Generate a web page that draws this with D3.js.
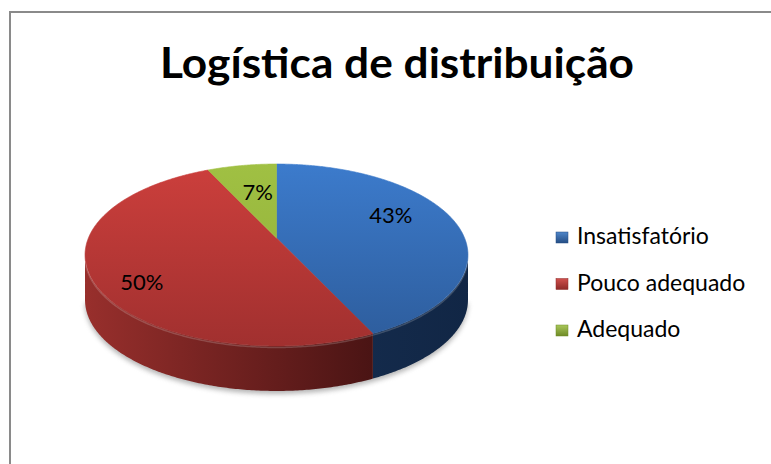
<!DOCTYPE html>
<html><head><meta charset="utf-8">
<script src="https://cdn.jsdelivr.net/npm/d3@7"></script>
<style>html,body{margin:0;padding:0;background:#fff;}svg{display:block;}</style>
</head><body>
<svg id="c" width="771" height="464"></svg>
<script>
// ---- data ----
const categories = ["Insatisfatório", "Pouco adequado", "Adequado"];
const values = [43, 50, 7];
const valueLabels = ["43%", "50%", "7%"];
const title = "Logística de distribuição";

// ---- style / layout ----
const topColors = [["#3C7BCC","#2D5C9B"],["#CC3F3C","#A1302F"],["#A0C043","#8FAE38"]];
const sideColors = [["#1B365C","#112645"],["#982F2C","#4A1414"],["#7E9A2E","#5E7420"]];
const keyColors = [["#4F86C9","#244D84"],["#D0504D","#8E2A28"],["#A9C75A","#6E8A26"]];
const labelNudge = [[-2,-11],[-18,18],[5,4]];

const svg = d3.select("#c");
const defs = svg.append("defs");

// frame
svg.append("path").attr("d","M10,470 L10,12 L780,12").attr("fill","none")
  .attr("stroke","#8a8a8a").attr("stroke-width",2);

// title
svg.append("text").attr("x",397).attr("y",78).attr("text-anchor","middle")
  .attr("font-family","Lato, 'Open Sans', sans-serif").attr("font-weight","bold")
  .attr("font-size",42).attr("textLength",474).attr("lengthAdjust","spacingAndGlyphs")
  .attr("fill","#000").text(title);

// perspective pie geometry
const cx = 276.5, cy0 = 238, A = 188.1, B = 87.8, p = 0.1868, depth = 45;
function proj(theta, f, dz) {
  const s = Math.sin(theta), c = Math.cos(theta);
  const den = 1 + p * c * f;
  return [cx + A * f * s / den, cy0 - B * f * c / den + (dz || 0)];
}
function rim(a, b, dz) {
  const n = Math.max(2, Math.ceil(Math.abs(b - a) / 0.01));
  return d3.range(n + 1).map(i => proj(a + (b - a) * i / n, 1, dz));
}
const line = d3.line();

const pie = d3.pie().sort(null).value(d => d)
  .startAngle(0).endAngle(2 * Math.PI);
const arcs = pie(values);

// gradients
arcs.forEach((d, i) => {
  const g = defs.append("linearGradient").attr("id","top"+i)
    .attr("gradientUnits","userSpaceOnUse").attr("x1",0).attr("y1",164).attr("x2",0).attr("y2",346);
  g.append("stop").attr("offset",0).attr("stop-color",topColors[i][0]);
  g.append("stop").attr("offset",1).attr("stop-color",topColors[i][1]);
  const a0 = proj(d.startAngle,1), a1 = proj(d.endAngle,1);
  const s = defs.append("linearGradient").attr("id","side"+i)
    .attr("gradientUnits","userSpaceOnUse").attr("x1",Math.min(a0[0],a1[0],85)).attr("y1",0)
    .attr("x2", i===1 ? a0[0] : 470).attr("y2",0);
  s.append("stop").attr("offset",0).attr("stop-color",sideColors[i][0]);
  s.append("stop").attr("offset",1).attr("stop-color",sideColors[i][1]);
  const k = defs.append("linearGradient").attr("id","key"+i).attr("x1",0).attr("y1",0).attr("x2",0).attr("y2",1);
  k.append("stop").attr("offset",0).attr("stop-color",keyColors[i][0]);
  k.append("stop").attr("offset",1).attr("stop-color",keyColors[i][1]);
});
const blur = defs.append("filter").attr("id","blur").attr("x","-20%").attr("y","-20%").attr("width","140%").attr("height","140%");
blur.append("feGaussianBlur").attr("stdDeviation",2.5);

// shadow
const thL = Math.acos(-p), thR = 2 * Math.PI - Math.acos(-p);
svg.append("path")
  .attr("d", line(rim(thL, thR, depth + 3)) + "Z")
  .attr("fill","#777").attr("opacity",0.55).attr("filter","url(#blur)");

// sides (front visible part)
const g = svg.append("g");
arcs.forEach((d, i) => {
  const a = Math.max(d.startAngle, thL), b = Math.min(d.endAngle, thR);
  if (b <= a) return;
  const pts = rim(a, b, 0).concat(rim(b, a, depth));
  g.append("path").attr("d", line(pts) + "Z").attr("fill","url(#side"+i+")");
});

// top faces
arcs.forEach((d, i) => {
  const pts = [proj(0,0)].concat(rim(d.startAngle, d.endAngle, 0));
  g.append("path").attr("d", line(pts) + "Z").attr("fill","url(#top"+i+")")
    .attr("stroke","url(#top"+i+")").attr("stroke-width",0.6);
});
// rim highlight (bevel)
svg.append("path").attr("d", line(rim(thL + 0.05, thR - 0.05, 1.5)))
  .attr("fill","none").attr("stroke","#fff").attr("stroke-opacity",0.18).attr("stroke-width",1.5);

// value labels
arcs.forEach((d, i) => {
  const mid = (d.startAngle + d.endAngle) / 2;
  const pt = proj(mid, 0.65, 0);
  svg.append("text").attr("x", pt[0] + labelNudge[i][0]).attr("y", pt[1] + labelNudge[i][1] + 8)
    .attr("text-anchor","middle").attr("font-family","Lato, 'Open Sans', sans-serif")
    .attr("font-size",22).attr("fill","#000").text(valueLabels[i]);
});

// legend
const leg = svg.append("g");
categories.forEach((c, i) => {
  const y = 244 + i * 46.5;
  leg.append("rect").attr("x",556).attr("y",y - 12).attr("width",12).attr("height",11)
    .attr("fill","url(#key"+i+")").attr("stroke",keyColors[i][1]).attr("stroke-width",0.5);
  leg.append("text").attr("x",577).attr("y",y).attr("font-family","Lato, 'Open Sans', sans-serif")
    .attr("font-size",23).attr("fill","#000").text(c);
});
</script>
</body></html>
